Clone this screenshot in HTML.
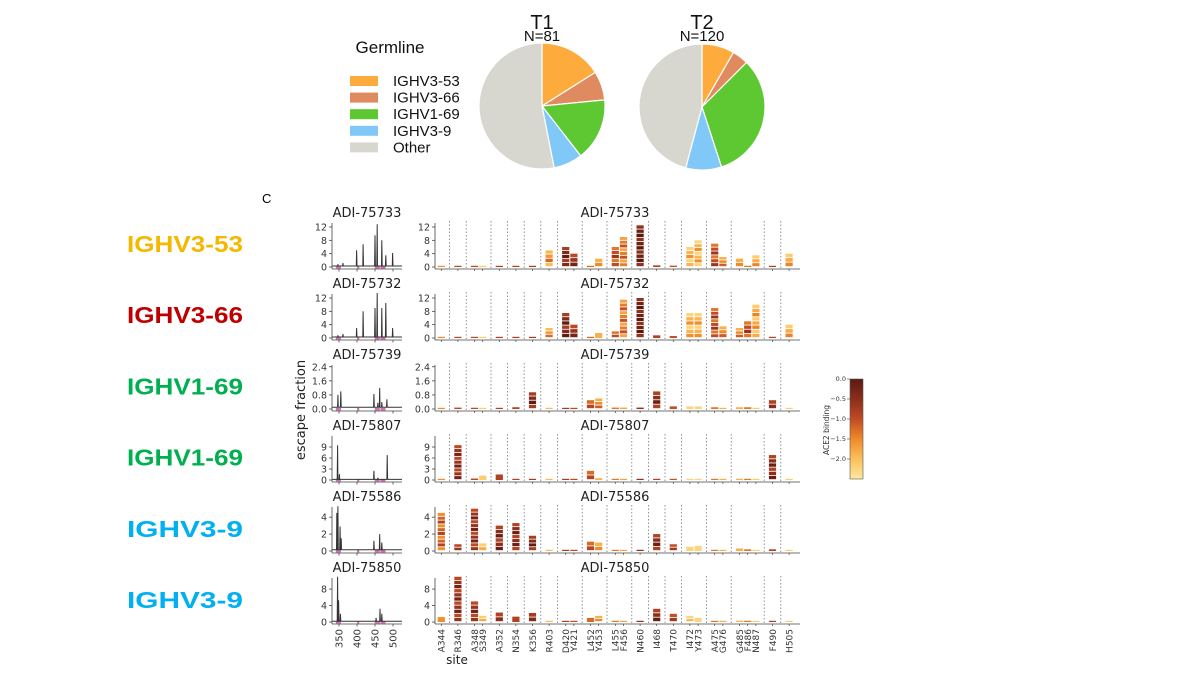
<!DOCTYPE html>
<html><head><meta charset="utf-8"><style>
html,body{margin:0;padding:0;background:#fff;}
svg{display:block;font-family:"DejaVu Sans","Liberation Sans",sans-serif;}
</style></head><body>
<svg id="fig" width="1200" height="675" viewBox="0 0 1200 675" xmlns="http://www.w3.org/2000/svg">
<g id="pies"></g>
<g id="germ"></g>
<text x="262" y="203" font-size="13" font-family="Liberation Sans, sans-serif">C</text>
<g id="lines"></g>
<g id="logos"></g>
<g id="cbar"></g>
<text transform="translate(305,410) rotate(-90)" text-anchor="middle" font-size="13" fill="#222">escape fraction</text>
<text x="457" y="664" text-anchor="middle" font-size="12" fill="#222">site</text>
</svg>
<script>
const NS='http://www.w3.org/2000/svg';
function mk(tag,attrs,parent,txt){const e=document.createElementNS(NS,tag);for(const k in attrs)e.setAttribute(k,attrs[k]);if(txt!==undefined)e.textContent=txt;parent.appendChild(e);return e;}

// ---------- pie data ----------
const pieCategories=['IGHV3-53','IGHV3-66','IGHV1-69','IGHV3-9','Other'];
const pieColors=['#fdab3d','#e08a5f','#5dc832','#80c8f8','#d7d7cf'];
const t1Counts=[13,6,13,6,43];
const t2Counts=[10,5,39,11,55];
const pieTitles=['T1','T2'];
const pieNs=['N=81','N=120'];

// ---------- germline labels ----------
const germLabels=['IGHV3-53','IGHV3-66','IGHV1-69','IGHV1-69','IGHV3-9','IGHV3-9'];
const germColors=['#f5b800','#c00000','#00b050','#00b050','#00b0f0','#00b0f0'];

// ---------- logo data ----------
const antibodies=['ADI-75733','ADI-75732','ADI-75739','ADI-75807','ADI-75586','ADI-75850'];
const siteGroups=[['A344'],['R346'],['A348','S349'],['A352'],['N354'],['K356'],['R403'],['D420','Y421'],['L452','Y453'],['L455','F456'],['N460'],['I468'],['T470'],['I472','Y473'],['A475','G476'],['G485','F486','N487'],['F490'],['H505']];
const siteBinding=[-1.2,-0.6,-0.6,-1.8,-0.5,-0.5,-0.4,-1.6,-0.4,-0.6,-0.9,-1.5,-1.0,-1.4,-0.2,-0.5,-0.7,-1.9,-1.9,-1.0,-1.5,-1.5,-1.0,-1.8,-0.5,-1.8];
const esc1=[0.3,0.3,0.2,0.2,0.3,0.3,0.3,5,6,4,0.2,2.5,6,9,12.5,0.5,0.4,6,8,7,3,2.5,0.3,3.5,0.3,4];
const esc2=[0.3,0.3,0.2,0.2,0.3,0.3,0.3,3,7.5,4,0.2,1.5,2,11.5,12,0.8,0.6,7.5,7.5,9,3.5,3,5,10,0.2,4];
const esc3=[0.05,0.08,0.07,0.04,0.06,0.1,0.95,0.07,0.06,0.05,0.5,0.6,0.08,0.08,0.08,1.0,0.15,0.15,0.15,0.1,0.05,0.1,0.1,0.05,0.5,0.04];
const esc4=[0.1,9.5,0.4,1.2,1.5,0.1,0.1,0.1,0.1,0.1,2.5,0.5,0.1,0.1,0.1,0.1,0.1,0.1,0.1,0.1,0.1,0.1,0.1,0.1,6.8,0.1];
const esc5=[4.5,0.8,5,0.9,3,3.3,1.8,0.1,0.05,0.05,1.1,1.0,0.1,0.1,0.1,2,0.8,0.5,0.6,0.1,0.05,0.3,0.2,0.1,0.2,0.05];
const esc6=[1.2,11,5,1.5,2.3,1.3,2.2,0.2,0.1,0.1,1,1.5,0.2,0.2,0.2,3.2,2,1.5,1,0.2,0.2,0.3,0.3,0.2,0.2,0.1];
const escRows=[esc1,esc2,esc3,esc4,esc5,esc6];
const rowDomainMax=[13.2,13.2,2.5,12,5.2,10.7];
const rowTicks=[[0,4,8,12],[0,4,8,12],[0,0.8,1.6,2.4],[0,3,6,9],[0,2,4],[0,4,8]];
const rowTickLabels=[['0','4','8','12'],['0','4','8','12'],['0.0','0.8','1.6','2.4'],['0','3','6','9'],['0','2','4'],['0','4','8']];

// ---------- line plot data (spike sites / values) ----------
const lineBase=[0.3,0.3,0.1,0.15,0.15,0.2];
const peakSites1=[347,361,399,417,450,456,469,480,499];
const peakVals1=[0.8,1.2,5,6.8,9.5,12.8,8,3.5,4.2];
const peakSites2=[347,361,399,417,450,456,469,480,499];
const peakVals2=[0.8,1.2,3,8,9,13.5,9,10.5,3];
const peakSites3=[347,355,447,458,463,469,483];
const peakVals3=[0.8,1.0,0.85,0.35,1.2,0.4,0.55];
const peakSites4=[346,351,447,458,484];
const peakVals4=[9.5,1.6,2.5,0.6,6.8];
const peakSites5=[344,347,353,356,447,463,469];
const peakVals5=[4.5,5.3,2.9,1.5,1.2,2,1];
const peakSites6=[346,349,354,453,464,469];
const peakVals6=[11,5.3,2,1,3.2,2];
const peakSites=[peakSites1,peakSites2,peakSites3,peakSites4,peakSites5,peakSites6];
const peakVals=[peakVals1,peakVals2,peakVals3,peakVals4,peakVals5,peakVals6];
const lineXTicks=[350,400,450,500];
const cbarTicks=[0,-0.5,-1,-1.5,-2];
const cbarLabels=['0.0','\u22120.5','\u22121.0','\u22121.5','\u22122.0'];

// ---------- pies ----------
const pies=document.getElementById('pies');
mk('text',{x:390,y:53,'text-anchor':'middle','font-size':17,'font-family':'Liberation Sans, sans-serif',fill:'#111',},pies,'Germline');
pieCategories.forEach((c,i)=>{
  const g=mk('g',{},pies);
  
  
  const y=81+i*16.6;
  mk('rect',{x:350,y:y-5,width:28,height:10,fill:pieColors[i]},g);
  mk('text',{x:393,y:y+5,'font-size':15,'font-family':'Liberation Sans, sans-serif',fill:'#111'},g,c);
});
function drawPie(cx,cy,r,counts,title,nlab){
  const g=mk('g',{},pies);
  
  
  const tot=counts.reduce((a,b)=>a+b,0);let a0=0;
  counts.forEach((v,i)=>{
    const a1=a0+v/tot*2*Math.PI;
    const x0=cx+r*Math.sin(a0),y0=cy-r*Math.cos(a0),x1=cx+r*Math.sin(a1),y1=cy-r*Math.cos(a1);
    const p=mk('path',{d:`M${cx},${cy}L${x0},${y0}A${r},${r} 0 ${(a1-a0)>Math.PI?1:0} 1 ${x1},${y1}Z`,fill:pieColors[i],stroke:'#fff','stroke-width':1.2},g);
    
    
    a0=a1;
  });
  mk('text',{x:cx,y:29,'text-anchor':'middle','font-size':20,'font-family':'Liberation Sans, sans-serif',fill:'#111'},g,title);
  mk('text',{x:cx,y:41,'text-anchor':'middle','font-size':15,'font-family':'Liberation Sans, sans-serif',fill:'#111'},g,nlab);
}
drawPie(542,106,63,t1Counts,pieTitles[0],pieNs[0]);
drawPie(702,107,63,t2Counts,pieTitles[1],pieNs[1]);

// ---------- germline labels ----------
const germ=document.getElementById('germ');
germLabels.forEach((l,i)=>{
  const t=mk('text',{x:127,y:252+i*71.2,'font-size':23,'font-weight':'bold','font-family':'Liberation Sans, sans-serif',fill:germColors[i],textLength:116,lengthAdjust:'spacingAndGlyphs'},germ,l);
  
  
});

// ---------- colormap ----------
const cmapStops=[[0,[90,26,16]],[0.2,[139,46,28]],[0.4,[192,74,36]],[0.6,[240,138,40]],[0.8,[251,192,90]],[1,[253,232,160]]];
function cmap(v){const t=Math.max(0,Math.min(1,-v/2.5));for(let i=1;i<cmapStops.length;i++){if(t<=cmapStops[i][0]){const[a,ca]=cmapStops[i-1],[b,cb]=cmapStops[i];const f=(t-a)/(b-a);return 'rgb('+ca.map((c,k)=>Math.round(c+(cb[k]-c)*f)).join(',')+')';}}return 'rgb(253,232,160)';}

// ---------- layout helpers ----------
const baseY=i=>267+71*i;
const plotH=44;
const lineX=s=>339+(s-350)*0.36;
const logoX0=433,slot=8.2,pad=8.4;
const siteX=[],sepX=[],siteNames=[];
(function(){let x=logoX0;siteGroups.forEach(g=>{g.forEach((s,k)=>{siteX.push(x+pad/2+slot*(k+0.5));siteNames.push(s);});x+=pad+slot*g.length;sepX.push(x);});})();

// ---------- line plots ----------
const lines=document.getElementById('lines');
antibodies.forEach((ab,r)=>{
  const g=mk('g',{},lines);
  
  
  const B=baseY(r),yS=v=>B-v/rowDomainMax[r]*plotH;
  mk('text',{x:367,y:B-50,'text-anchor':'middle','font-size':13,fill:'#222'},g,ab);
  mk('line',{x1:332,y1:B-plotH,x2:332,y2:B+2,stroke:'#444','stroke-width':0.8},g);
  mk('line',{x1:332,y1:B+2,x2:402,y2:B+2,stroke:'#444','stroke-width':0.8},g);
  rowTicks[r].forEach((t,k)=>{mk('line',{x1:329,y1:yS(t),x2:332,y2:yS(t),stroke:'#444','stroke-width':0.8},g);
    mk('text',{x:327,y:yS(t)+3.5,'text-anchor':'end','font-size':9.5,fill:'#333'},g,rowTickLabels[r][k]);});
  lineXTicks.forEach(t=>mk('line',{x1:lineX(t),y1:B+2,x2:lineX(t),y2:B+4.5,stroke:'#444','stroke-width':0.8},g));
  [344,346,349,352,403,452,455,460,468,472,476].forEach(s=>mk('rect',{x:lineX(s)-1,y:B-1,width:2.2,height:2.5,fill:'#d070b0'},g));
  let pts=[[331,lineBase[r]]];
  peakSites[r].forEach((s,k)=>{pts.push([s-1,lineBase[r]]);pts.push([s,peakVals[r][k]]);pts.push([s+1,lineBase[r]]);});
  pts.push([525,lineBase[r]]);
  const p=mk('path',{d:'M'+pts.map(q=>lineX(q[0]).toFixed(1)+','+yS(q[1]).toFixed(1)).join('L'),fill:'none',stroke:'#333','stroke-width':1},g);
  
  
  if(r===5){lineXTicks.forEach(t=>mk('text',{transform:`translate(${lineX(t)+3.5},${B+7}) rotate(-90)`,'text-anchor':'end','font-size':10,fill:'#333'},g,String(t)));}
});

// ---------- logo plots ----------
const logos=document.getElementById('logos');
antibodies.forEach((ab,r)=>{
  const g=mk('g',{},logos);
  
  
  const B=baseY(r),yS=v=>B-v/rowDomainMax[r]*plotH;
  mk('text',{x:615,y:B-50,'text-anchor':'middle','font-size':13,fill:'#222'},g,ab);
  mk('line',{x1:435,y1:B-plotH,x2:435,y2:B+2,stroke:'#444','stroke-width':0.8},g);
  mk('line',{x1:435,y1:B+2,x2:800,y2:B+2,stroke:'#444','stroke-width':0.8},g);
  rowTicks[r].forEach((t,k)=>{mk('line',{x1:432,y1:yS(t),x2:435,y2:yS(t),stroke:'#444','stroke-width':0.8},g);
    mk('text',{x:430,y:yS(t)+3.5,'text-anchor':'end','font-size':9.5,fill:'#333'},g,rowTickLabels[r][k]);});
  sepX.slice(0,-1).forEach(x=>mk('line',{x1:x,y1:B-plotH-2,x2:x,y2:B+2,stroke:'#777','stroke-width':0.8,'stroke-dasharray':'1.5,2'},g));
  escRows[r].forEach((v,i)=>{
    const x=siteX[i];
    mk('line',{x1:x,y1:B+2,x2:x,y2:B+4,stroke:'#444','stroke-width':0.7},g);
    const top=yS(v),h=Math.max(1.2,B-top);
    const bar=mk('g',{},g);
    
    
    const nseg=Math.max(1,Math.round(h/4));
    for(let k=0;k<nseg;k++){
      const sh=h/nseg;const shade=siteBinding[i]+((k%3)-1)*0.35;
      mk('rect',{x:x-3.6,y:B-h+k*sh,width:7.2,height:Math.max(0.8,sh-(nseg>1?0.8:0)),fill:cmap(shade)},bar);
    }
  });
  if(r===5){siteNames.forEach((s,i)=>mk('text',{transform:`translate(${siteX[i]+3.3},${B+7}) rotate(-90)`,'text-anchor':'end','font-size':9,fill:'#333'},g,s));}
});

// ---------- colorbar ----------
const cb=document.getElementById('cbar');
const defs=mk('defs',{},cb);
const lg=mk('linearGradient',{id:'cg',x1:0,y1:0,x2:0,y2:1},defs);
for(let k=0;k<=10;k++)mk('stop',{offset:k/10,'stop-color':cmap(-2.5*k/10)},lg);
const cbY=v=>379+(-v)/2.5*100;
mk('rect',{x:850,y:379,width:13,height:100,fill:'url(#cg)',stroke:'#555','stroke-width':0.6},cb);
cbarTicks.forEach((t,k)=>{mk('line',{x1:847,y1:cbY(t),x2:850,y2:cbY(t),stroke:'#444','stroke-width':0.6},cb);
  mk('text',{x:846,y:cbY(t)+2.2,'text-anchor':'end','font-size':6.5,fill:'#333'},cb,cbarLabels[k]);});
mk('text',{transform:'translate(829,430) rotate(-90)','text-anchor':'middle','font-size':7.5,fill:'#333'},cb,'ACE2 binding');
</script>
</body></html>
